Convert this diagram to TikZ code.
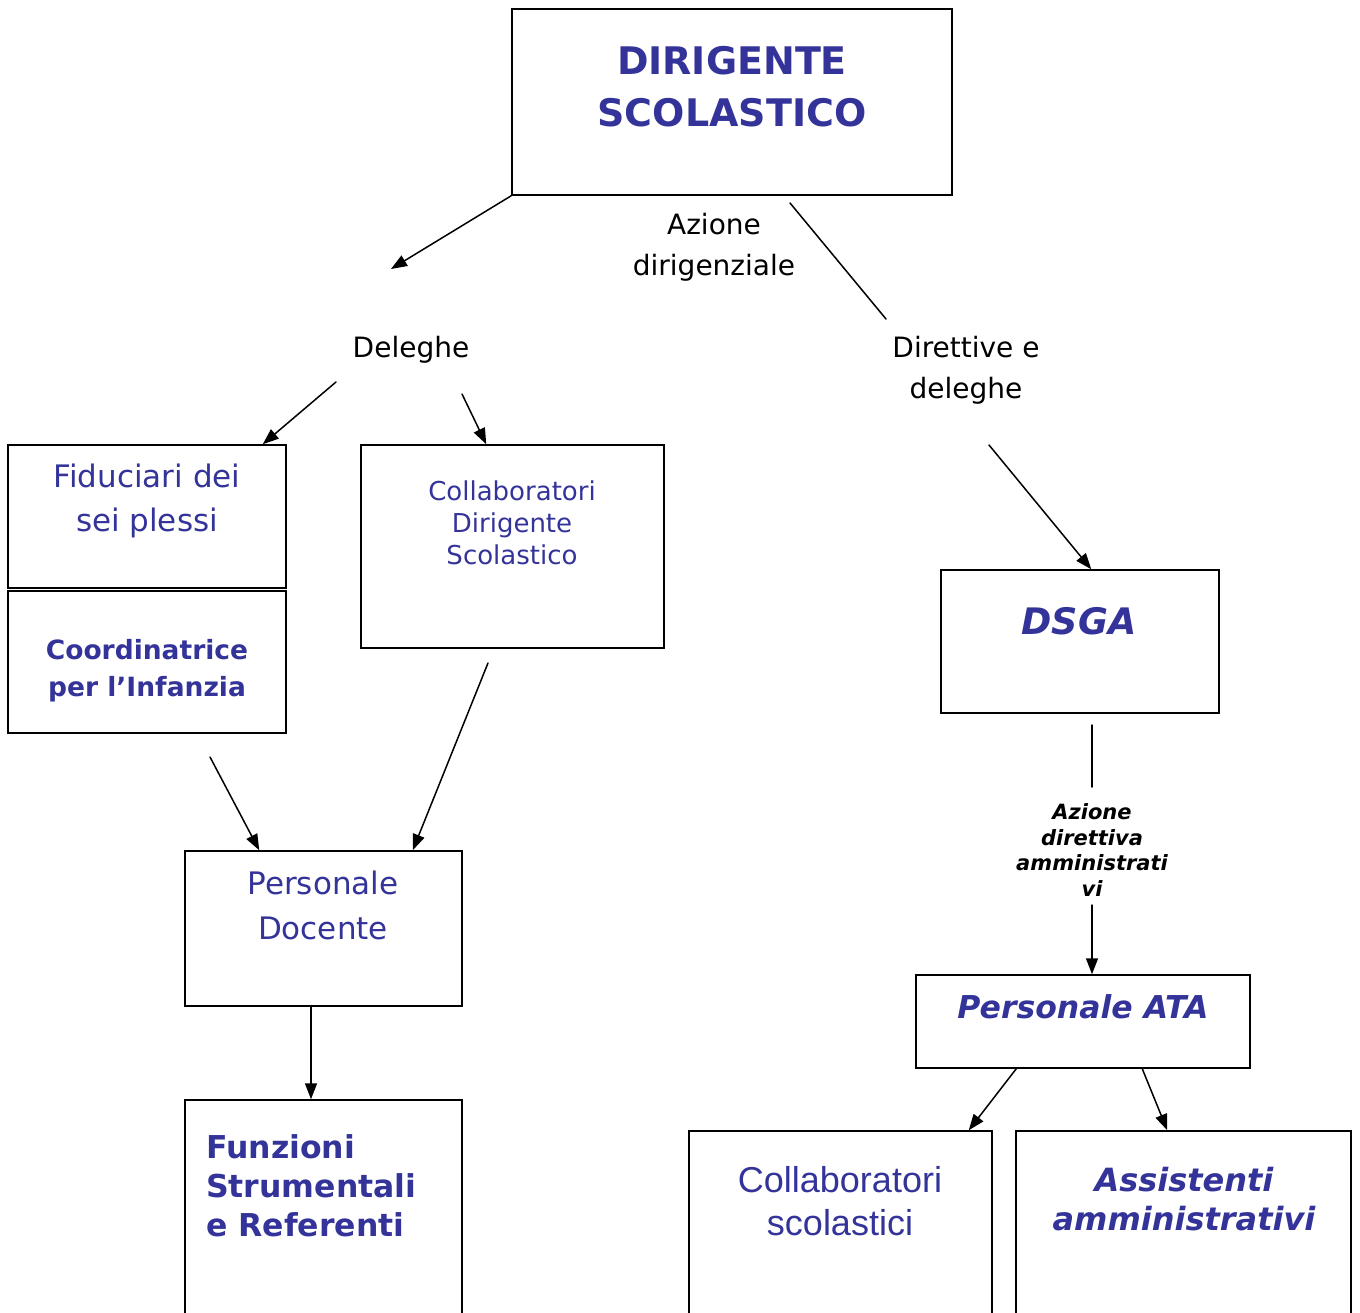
\documentclass[tikz,border=0pt]{standalone}
\usepackage{fontspec}
\setmainfont{DejaVu Sans}
\newfontfamily\narrowfont{Liberation Sans}
\usetikzlibrary{arrows.meta}
\definecolor{orgblue}{HTML}{333399}
\tikzset{
  box/.style={draw, line width=1.5pt, minimum width=#1, inner sep=0pt},
  txt/.style={align=center, inner sep=0pt, text=orgblue},
  note/.style={align=center, inner sep=0pt, text=black},
  arr/.style={-{Triangle[length=16pt,width=12pt]}, line width=1.5pt},
  link/.style={line width=1.5pt}
}
\newcommand{\fs}[2]{\fontsize{#1}{#2}\selectfont}
\begin{document}
\begin{tikzpicture}[x=1pt, y=-1pt, line cap=round]
      \useasboundingbox (0,0) rectangle (1360,1313);
      \clip (0,0) rectangle (1360,1313);

      % boxes
      \node[box=440pt, minimum height=186pt] (ds) at (732,102) {};
      \node[box=278pt, minimum height=143pt] (fid) at (147,516.5) {};
      \node[box=278pt, minimum height=142pt] (coo) at (147,662) {};
      \node[box=303pt, minimum height=203pt] (cds) at (512.5,546.5) {};
      \node[box=277pt, minimum height=155pt] (doc) at (323.5,928.5) {};
      \node[box=277pt, minimum height=230pt] (fun) at (323.5,1215) {};
      \node[box=278pt, minimum height=143pt] (dsga) at (1080,641.5) {};
      \node[box=334pt, minimum height=93pt] (ata) at (1083,1021.5) {};
      \node[box=303pt, minimum height=199pt] (cs) at (840.5,1230.5) {};
      \node[box=335pt, minimum height=199pt] (ass) at (1183.5,1230.5) {};

      % texts
      \node[txt, font=\bfseries\fs{38}{52}] (dstxt) at (732,87) {DIRIGENTE\\SCOLASTICO};
      \node[note, font=\fs{28}{41}] (azdir) at (714,247) {Azione\\dirigenziale};
      \node[note, font=\fs{28}{41}] (del) at (411,350) {Deleghe};
      \node[note, font=\fs{28}{41}] (dir) at (966,370) {Direttive e\\deleghe};
      \node[txt, font=\fs{31}{44}] (fidtxt) at (147,501) {Fiduciari dei\\sei plessi};
      \node[txt, font=\bfseries\fs{26.5}{37}] (cootxt) at (147,671) {Coordinatrice\\per l’Infanzia};
      \node[txt, font=\fs{26}{32}] (cdstxt) at (512,523) {Collaboratori\\Dirigente\\Scolastico};
      \node[txt, font=\fs{31}{45}] (doctxt) at (323,905) {Personale\\Docente};
      \node[txt, align=left, anchor=west, font=\bfseries\fs{31.5}{39}] (funtxt) at (206,1186) {Funzioni\\Strumentali\\e Referenti};
      \node[txt, font=\bfseries\itshape\fs{36.5}{44}] (dsgatxt) at (1079,621) {DSGA};
      \node[note, font=\bfseries\itshape\fs{21}{25.7}] (azamm) at (1092,850) {Azione\\direttiva\\amministrati\\vi};
      \node[txt, font=\bfseries\itshape\fs{31.5}{40}] (atatxt) at (1083,1007) {Personale ATA};
      \node[txt, font=\narrowfont\fs{36}{43}] (cstxt) at (840,1201) {Collaboratori\\scolastici};
      \node[txt, font=\bfseries\itshape\fs{32}{39}] (asstxt) at (1184,1199) {Assistenti\\amministrativi};

      % free ends
      \coordinate (deltip) at (391,269);
      \coordinate (dirstart) at (790,203);
      \coordinate (dirend) at (886,319);
      \coordinate (fidstart) at (336,382);
      \coordinate (cdsstart) at (462,394);
      \coordinate (dsgastart) at (989,445);
      \coordinate (docstart) at (210,757);
      \coordinate (doc2start) at (488,663);
      \coordinate (ammtop) at (1092,725);
      \coordinate (ammend) at (1092,787);
      \coordinate (ammstart) at (1092,905);

      % connectors
      \draw[arr] (ds.south west) -- (deltip);
      \draw[link] (dirstart) -- (dirend);
      \draw[arr] (fidstart) -- ([xshift=-24pt]fid.north east);
      \draw[arr] (cdsstart) -- ([xshift=126pt]cds.north west);
      \draw[arr] (dsgastart) -- ([xshift=151pt]dsga.north west);
      \draw[arr] (docstart) -- ([xshift=75pt]doc.north west);
      \draw[arr] (doc2start) -- ([xshift=-50pt]doc.north east);
      \draw[arr] (doc.south -| 311,0) -- (fun.north -| 311,0);
      \draw[link] (ammtop) -- (ammend);
      \draw[arr] (ammstart) -- (ata.north -| ammstart);
      \draw[arr] ([xshift=101pt]ata.south west) -- ([xshift=-24pt]cs.north east);
      \draw[arr] ([xshift=227pt]ata.south west) -- ([xshift=152pt]ass.north west);
    \end{tikzpicture}
\end{document}
